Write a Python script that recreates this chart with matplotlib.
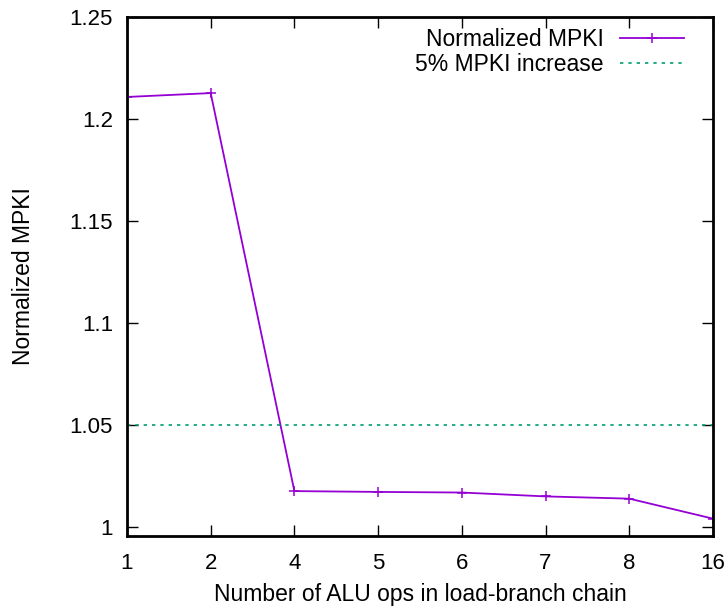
import matplotlib
matplotlib.use("Agg")
import matplotlib.pyplot as plt

plt.rcParams['font.family'] = ['Liberation Sans', 'DejaVu Sans']

categories = ["1", "2", "4", "5", "6", "7", "8", "16"]
mpki = [1.2108, 1.2127, 1.0176, 1.0172, 1.0169, 1.0150, 1.0139, 1.0041]
threshold = 1.05
yticks = [1, 1.05, 1.1, 1.15, 1.2, 1.25]
ytick_labels = ["1", "1.05", "1.1", "1.15", "1.2", "1.25"]

fig = plt.figure(figsize=(7.26, 6.07), dpi=100)
ax = fig.add_axes([0.1749, 0.1170, 0.982 - 0.1749, 0.972 - 0.1170])

x = list(range(len(categories)))
ax.plot(x, mpki, color='#9400D3', lw=1.3, marker='+', markersize=7, markeredgewidth=1.1,
        label='Normalized MPKI')
ax.axhline(threshold, color='#009E73', lw=1.2, ls=(0, (2, 3)), label='5% MPKI increase')

ax.set_xlim(0, len(categories) - 1)
ax.set_ylim(0.9956, 1.25)
ax.set_xticks(x)
ax.set_xticklabels(categories)
ax.set_yticks(yticks)
ax.set_yticklabels(ytick_labels)
ax.tick_params(direction='in', length=8, width=1, top=True, right=True, labelsize=16)
ax.tick_params(axis='y', pad=10)
ax.tick_params(axis='x', pad=12)
for s in ax.spines.values():
    s.set_linewidth(2)

ax.set_xlabel('Number of ALU ops in load-branch chain', fontsize=16.5, labelpad=7)
ax.set_ylabel('Normalized MPKI', fontsize=16.5, labelpad=25)

leg = ax.legend(loc='upper right', bbox_to_anchor=(0.97, 1.0), frameon=False,
                markerfirst=False, fontsize=16.5,
                handlelength=2.8, borderaxespad=0.3, borderpad=0.2, labelspacing=0.05,
                handletextpad=0.7)

fig.savefig('out.png', dpi=100)
